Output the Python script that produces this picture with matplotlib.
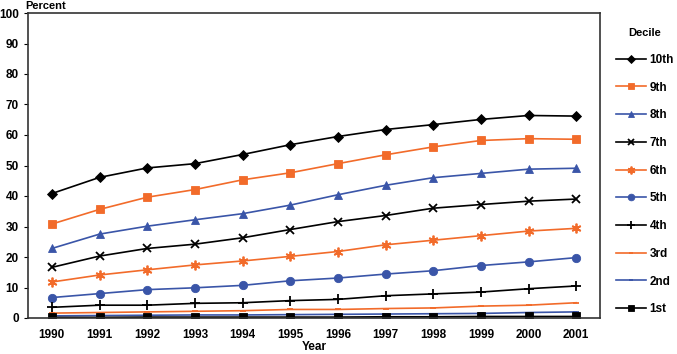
import matplotlib.pyplot as plt

plt.rcParams['font.family'] = ['Liberation Sans', 'DejaVu Sans']
plt.rcParams['font.weight'] = 'bold'

years = [1990, 1991, 1992, 1993, 1994, 1995, 1996, 1997, 1998, 1999, 2000, 2001]
d10 = [40.8, 46.1, 49.2, 50.6, 53.6, 56.8, 59.5, 61.8, 63.4, 65.1, 66.4, 66.2]
d9 = [30.8, 35.6, 39.6, 42.1, 45.3, 47.6, 50.6, 53.5, 56.1, 58.2, 58.8, 58.6]
d8 = [22.8, 27.5, 30.1, 32.2, 34.2, 37.0, 40.4, 43.5, 46.0, 47.4, 48.8, 49.1]
d7 = [16.6, 20.3, 22.8, 24.2, 26.3, 29.0, 31.6, 33.6, 36.0, 37.2, 38.3, 39.0]
d6 = [11.8, 14.1, 15.8, 17.4, 18.7, 20.2, 21.8, 24.0, 25.5, 27.0, 28.5, 29.4]
d5 = [6.7, 8.0, 9.3, 9.9, 10.7, 12.2, 13.1, 14.4, 15.5, 17.2, 18.4, 19.8]
d4 = [3.5, 4.2, 4.2, 4.8, 5.0, 5.7, 6.1, 7.3, 7.9, 8.5, 9.6, 10.5]
d3 = [1.6, 1.8, 2.0, 2.2, 2.4, 2.8, 2.8, 3.1, 3.3, 3.9, 4.2, 5.0]
d2 = [0.7, 0.8, 0.9, 1.0, 1.0, 1.1, 1.2, 1.3, 1.4, 1.5, 1.8, 2.0]
d1 = [0.2, 0.2, 0.3, 0.3, 0.3, 0.3, 0.3, 0.4, 0.4, 0.5, 0.5, 0.5]

black = '#000000'
orange = '#F26B2A'
blue = '#3A55A8'

series = [
    ('10th', d10, black, 'D', 5),
    ('9th', d9, orange, 's', 6),
    ('8th', d8, blue, '^', 6),
    ('7th', d7, black, 'x', 6),
    ('6th', d6, orange, (6, 2, 0), 7),
    ('5th', d5, blue, 'o', 6),
    ('4th', d4, black, '+', 7),
    ('3rd', d3, orange, '_', 4),
    ('2nd', d2, blue, '_', 4),
    ('1st', d1, black, 's', 6),
]

fig = plt.figure(figsize=(6.77, 3.54), dpi=100)
ax = fig.add_axes([28 / 677, 36 / 354, 572 / 677, 305 / 354])

for name, vals, col, mk, ms in series:
    ax.plot(years, vals, color=col, marker=mk, markersize=ms, linewidth=1.2,
            markeredgewidth=1.3 if mk in ('x', '+', '_', (6, 2, 0)) else 0.6,
            label=name)

ax.set_xlim(1989.5, 2001.5)
ax.set_ylim(0, 100)
ax.set_xticks(years)
ax.set_yticks(range(0, 101, 10))
ax.tick_params(axis='x', length=0, labelsize=8.5, pad=8)
ax.tick_params(axis='y', direction='out', length=3, labelsize=8.5)
for s in ax.spines.values():
    s.set_linewidth(1.2)
    s.set_color('#333333')

ax.text(-0.005, 1.005, 'Percent', transform=ax.transAxes, fontsize=8, fontweight='bold',
        ha='left', va='bottom')
ax.set_xlabel('Year', fontsize=8.5, fontweight='bold', labelpad=0)

leg = ax.legend(loc='upper left', bbox_to_anchor=(1.01, 0.985), frameon=False,
                title='Decile', fontsize=8.5, handlelength=2.5, labelspacing=1.33,
                handletextpad=0.3, markerscale=0.8)
leg.get_title().set_fontweight('bold')
leg.get_title().set_fontsize(8)

fig.savefig('out.png', dpi=100)
